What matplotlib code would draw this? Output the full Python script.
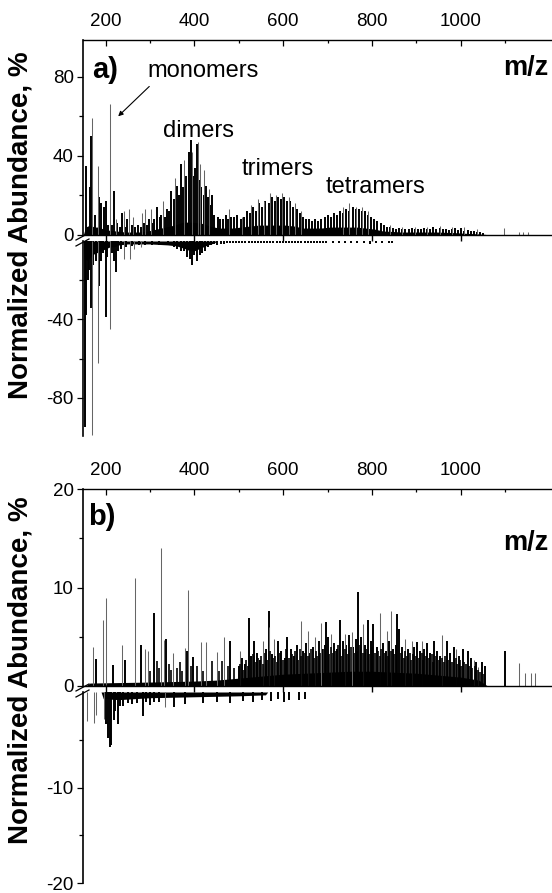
import matplotlib
matplotlib.use("Agg")
import matplotlib.pyplot as plt
from matplotlib.lines import Line2D

plt.rcParams['font.family'] = ['Liberation Sans', 'DejaVu Sans']
plt.rcParams['axes.unicode_minus'] = False

# ---------------- data : panel a (upper = positive spectrum) ----------------
a_up_black_mz = [155, 164, 168, 176, 186, 190, 197, 200, 205, 214, 219, 226, 233, 237, 244, 248, 259, 266,
                 272, 279, 286, 293, 298, 305, 310, 315, 322, 326, 333, 339, 343, 348, 354, 361, 365, 371,
                 375, 382, 387, 392, 397, 401, 405, 410, 416, 422, 427, 431, 436, 440, 445, 453, 458, 464,
                 471, 476, 483, 490, 497, 504, 511, 518, 525, 532, 539, 546, 553, 560, 567, 574, 581, 588,
                 595, 602, 609, 616, 623, 630, 637, 644, 651, 658, 665, 672, 679, 686, 693, 700, 707, 714,
                 721, 728, 735, 742, 749, 756, 763, 770, 777, 784, 791, 798, 805, 812, 819, 826, 833, 840,
                 847, 854, 861, 868, 875, 882, 889, 896, 903, 910, 917, 924, 931, 938, 945, 952, 959, 966,
                 973, 980, 987, 994, 1001, 1008, 1015, 1022, 1029, 1036, 1043, 1050]
a_up_black_int = [35, 24, 50, 10, 19, 16, 14, 17, 5, 5, 22, 6, 4, 11, 4, 8, 5, 4,
                  5, 4, 6, 5, 8, 6, 8, 14, 9, 10, 9, 13, 12, 22, 18, 25, 20, 36,
                  24, 30, 42, 48, 30, 34, 46, 28, 24, 20, 25, 19, 15, 20, 10, 9, 8, 8,
                  10, 8, 9, 9, 10, 8, 9, 12, 11, 14, 12, 16, 14, 17, 16, 19, 17, 19,
                  18, 19, 17, 17, 14, 13, 11, 9, 8, 8, 7, 8, 7, 8, 9, 10, 9, 11,
                  10, 12, 11, 13, 12, 14, 13, 13, 12, 12, 10, 9, 8, 7, 6, 5, 4, 4,
                  3.5, 3, 3.5, 3, 3, 3, 3.5, 3, 3, 3, 3.5, 3, 3, 4, 3, 3.5, 3, 3,
                  2.5, 3, 3.5, 2.5, 3.5, 2, 2.5, 2, 2, 1.5, 1.5, 1.2]
a_up_gray_mz = [170, 183, 211, 224, 241, 253, 262, 282, 288, 303, 330, 356, 376, 394, 408, 413, 422, 432,
                479, 508, 528, 543, 556, 570, 584, 598, 612, 626, 640, 735, 749, 763, 777, 791, 840, 868,
                896, 924, 952, 980, 1008, 1036, 1097, 1130, 1140, 1150]
a_up_gray_int = [59, 35, 66, 8, 12, 13, 9, 11, 13, 13, 17, 29, 38, 42, 47, 36, 33, 23,
                 13, 9, 15, 18, 17, 21, 20, 21, 19, 16, 12, 14, 16, 14, 14, 12, 5, 4,
                 4, 4, 4.5, 4, 4, 3, 3.5, 1.5, 1.5, 1.5]
a_up_base_mz = [150, 155, 165, 175, 185, 195, 205, 225, 245, 275, 295, 315, 335, 355, 375, 395, 415, 435,
                455, 485, 505, 525, 545, 565, 585, 605, 625, 645, 665, 685, 705, 725, 745, 765, 785, 805,
                825, 845, 865, 905, 945, 985, 1015, 1035, 1055, 1065]
a_up_base_int = [0, 4, 5, 4, 4, 3, 2.5, 2, 1.5, 1.5, 2, 3, 4, 5, 6.5, 6.5, 6, 4.5,
                 3.5, 3.5, 4, 4.5, 5, 5, 5, 5, 4.5, 3.5, 3.5, 3.5, 4, 4, 4, 4, 3.5, 3,
                 2, 1.8, 1.5, 1.5, 1.5, 1.2, 0.8, 0.6, 0.3, 0]

# ---------------- data : panel a (lower = negative spectrum) ----------------
a_lo_black_mz = [153, 157, 160, 163, 167, 172, 178, 185, 190, 195, 200, 204, 214, 218, 223, 228, 235, 247,
                 260, 275, 290, 305, 320, 340, 355, 362, 370, 377, 384, 390, 394, 400, 406, 412, 418, 424,
                 430, 437, 445, 452, 459, 466, 473, 480, 487, 494, 501, 508, 515, 522, 529, 536, 543, 550,
                 557, 564, 571, 578, 585, 592, 599, 606, 613, 620, 627, 634, 641, 648, 655, 662, 669, 676,
                 683, 690, 697, 711, 725, 739, 753, 767, 781, 795, 809, 823, 837, 844]
a_lo_black_int = [-95, -38, -20, -15, -34, -12, -10, -23, -10, -6, -39, -8, -6, -10, -16, -5, -4, -3,
                  -2.5, -2, -2, -2, -2, -2, -3, -4, -5, -5, -8, -9, -12, -7, -10, -7, -6, -5,
                  -3, -2, -1.5, -2, -1.5, -1.5, -1.2, -1.2, -1.2, -1.2, -1, -1.2, -1, -1.2, -1, -1.2, -1, -1.2,
                  -1, -1.2, -1, -1.2, -1, -1.2, -1, -1.2, -1, -1.2, -1, -1.2, -1, -1.2, -1, -1.2, -1, -1.2,
                  -1, -1, -1, -1, -1, -1, -1, -1, -1, -1.5, -1, -1, -1, -0.8]
a_lo_gray_mz = [169, 184, 209, 242, 254, 265, 280]
a_lo_gray_int = [-99, -62, -45, -9, -9, -4, -3]
a_lo_base_mz = [150, 152, 160, 170, 180, 190, 200, 210, 220, 230, 250, 300, 340, 360, 380, 390, 400, 410,
                420, 430, 445, 450]
a_lo_base_int = [0, -9, -10, -7, -6, -5, -4, -3, -3, -2, -1.5, -1.5, -2, -2.5, -4, -5, -5, -4,
                 -3, -2, -1, 0]

# ---------------- data : panel b (upper) ----------------
b_up_gray_mz = [172, 194, 202, 238, 267, 289, 295, 325, 331, 352, 378, 385, 414, 427, 451, 467, 502, 554,
                569, 580, 639, 656, 672, 685, 707, 739, 755, 779, 818, 834, 843, 873, 889, 913, 958, 989,
                1029, 1039, 1130, 1144, 1157, 1167]
b_up_gray_int = [4.0, 6.7, 8.9, 4.2, 11, 3.8, 3.6, 14, 4.7, 3.3, 3.9, 9.7, 4.5, 4.5, 3.5, 5.0, 3.6, 4.6,
                 6.0, 4.8, 6.6, 5.6, 5.0, 6.4, 5.3, 5.3, 5.5, 6.3, 7.4, 5.6, 7.6, 4.8, 4.6, 4.6, 5.2, 3.8,
                 2.6, 1.9, 2.3, 1.3, 1.3, 1.3]
b_up_black_mz = [179, 217, 244, 281, 310, 337, 384, 396, 480, 500, 507, 514, 522, 527, 534, 541, 548, 561,
                 567, 575, 589, 596, 603, 609, 617, 624, 631, 645, 652, 659, 666, 680, 687, 694, 697, 701,
                 714, 721, 727, 735, 742, 749, 756, 763, 769, 776, 783, 790, 797, 802, 811, 825, 832, 839,
                 846, 853, 857, 861, 867, 881, 895, 901, 908, 917, 924, 931, 940, 947, 954, 968, 975, 984,
                 995, 1004, 1015, 1022, 1034, 1048, 1054, 1100]
b_up_black_int = [2.7, 2.1, 2.6, 4.2, 7.4, 4.8, 3.6, 2.9, 4.6, 2.0, 2.8, 2.2, 6.9, 3.0, 4.6, 3.4, 2.6, 3.8,
                  7.6, 3.2, 4.6, 3.6, 2.8, 5.0, 3.8, 3.0, 4.2, 3.6, 4.4, 3.4, 4.0, 4.6, 3.8, 4.2, 6.5, 5.0,
                  4.4, 3.8, 6.7, 4.6, 4.2, 5.2, 4.0, 4.8, 9.5, 5.0, 4.2, 6.7, 4.6, 6.3, 4.0, 4.4, 3.6, 4.6,
                  3.8, 4.2, 7.3, 5.8, 4.0, 3.8, 4.0, 4.5, 3.6, 3.8, 4.4, 3.4, 4.6, 3.6, 3.0, 4.6, 3.4, 4.0,
                  3.0, 3.8, 3.6, 2.8, 2.4, 2.4, 2.0, 3.6]
b_up_fill_mz = [300, 315, 320, 342, 348, 360, 368, 372, 392, 405, 420, 440, 455, 462, 475, 490, 503, 510,
                517, 520, 531, 538, 544, 551, 555, 558, 564, 571, 578, 582, 585, 592, 599, 606, 613, 620,
                627, 634, 638, 641, 648, 655, 662, 669, 673, 676, 683, 690, 704, 707, 711, 718, 724, 731,
                738, 745, 752, 759, 766, 772, 779, 786, 793, 800, 807, 814, 818, 821, 828, 835, 842, 849,
                864, 871, 874, 878, 885, 888, 892, 898, 905, 912, 915, 921, 928, 935, 938, 944, 951, 958,
                961, 965, 972, 979, 988, 991, 998, 1001, 1008, 1012, 1018, 1025, 1031, 1038, 1044, 1051]
b_up_fill_int = [1.5, 2.5, 1.8, 2.2, 1.6, 1.8, 2.4, 1.5, 2.0, 2.0, 1.5, 2.5, 1.5, 2.5, 2.0, 1.8, 2.2, 1.6,
                 2.6, 2.0, 3.2, 2.4, 2.8, 3.0, 2.2, 3.4, 2.6, 3.6, 2.8, 3.0, 2.4, 3.4, 2.6, 3.8, 2.8, 3.2,
                 3.6, 2.6, 3.8, 3.0, 3.4, 3.0, 3.8, 2.8, 3.6, 3.0, 3.4, 3.8, 3.2, 4.0, 3.4, 3.6, 4.2, 3.0,
                 3.8, 3.2, 4.0, 3.4, 3.6, 4.2, 3.4, 3.8, 3.2, 4.0, 3.4, 3.6, 3.0, 3.8, 3.4, 3.0, 3.6, 3.2,
                 3.4, 2.8, 3.6, 3.0, 3.4, 2.6, 3.2, 3.0, 2.8, 3.4, 2.6, 3.0, 2.8, 3.2, 2.4, 3.0, 2.6, 2.8,
                 2.4, 3.0, 2.6, 2.4, 2.8, 2.2, 2.6, 2.0, 2.4, 2.2, 2.0, 1.8, 2.0, 1.6, 1.4, 1.2]
b_up_base_mz = [155, 165, 300, 400, 450, 500, 550, 600, 650, 700, 750, 800, 850, 900, 950, 1000, 1040, 1060]
b_up_base_int = [0, 0.3, 0.4, 0.5, 0.6, 0.8, 1.0, 1.2, 1.3, 1.4, 1.5, 1.5, 1.4, 1.3, 1.1, 0.9, 0.6, 0]

# ---------------- data : panel b (lower) ----------------
b_lo_gray_mz = [159, 175, 179, 197, 335]
b_lo_gray_int = [-3.0, -3.2, -2.4, -2.8, -1.6]
b_lo_black_mz = [202, 206, 210, 213, 218, 222, 228, 233, 240, 250, 260, 270, 284, 292, 300, 310, 320, 355,
                 380, 420, 450, 480, 510, 533, 552, 572, 588, 602, 612, 635, 648]
b_lo_black_int = [-3.4, -4.8, -5.8, -5.6, -2.9, -2.0, -3.4, -1.5, -1.5, -1.2, -1.3, -1.1, -2.5, -1.0, -1.4,
                  -1.0, -1.0, -1.6, -1.3, -1.2, -1.0, -1.1, -0.9, -1.0, -0.8, -0.9, -0.7, -1.0, -0.8, -0.8,
                  -0.7]
b_lo_base_mz = [190, 195, 230, 300, 400, 500, 560, 565]
b_lo_base_int = [0, -0.7, -0.8, -0.6, -0.5, -0.4, -0.3, 0]

x_major = [200, 400, 600, 800, 1000]
x_minor = [300, 500, 700, 900, 1100]

# ---------------- layout ----------------
W, H = 552, 893
fig = plt.figure(figsize=(W / 100, H / 100), dpi=100)


def add_ax(x0, y0, x1, y1):
    return fig.add_axes([x0 / W, 1 - y1 / H, (x1 - x0) / W, (y1 - y0) / H])


XL = 83.3
axes = {
    'a_up': add_ax(XL, 40, W, 235),
    'a_lo': add_ax(XL, 241, W, 436),
    'b_up': add_ax(XL, 489, W, 686),
    'b_lo': add_ax(XL, 692, W, 883),
}

BLK = '#000000'
GRY = '#666666'


def draw(ax, base_mz, base_int, black_mz, black_int, gray_mz, gray_int):
    ax.fill_between(base_mz, 0, base_int, color=BLK, lw=0)
    ax.vlines(black_mz, 0, black_int, colors=BLK, linewidth=1.4)
    ax.vlines(gray_mz, 0, gray_int, colors=GRY, linewidth=0.75)


draw(axes['a_up'], a_up_base_mz, a_up_base_int, a_up_black_mz, a_up_black_int, a_up_gray_mz, a_up_gray_int)
draw(axes['a_lo'], a_lo_base_mz, a_lo_base_int, a_lo_black_mz, a_lo_black_int, a_lo_gray_mz, a_lo_gray_int)
draw(axes['b_up'], b_up_base_mz, b_up_base_int, b_up_black_mz, b_up_black_int, b_up_gray_mz, b_up_gray_int)
axes['b_up'].vlines(b_up_fill_mz, 0, b_up_fill_int, colors=BLK, linewidth=1.2)
draw(axes['b_lo'], b_lo_base_mz, b_lo_base_int, b_lo_black_mz, b_lo_black_int, b_lo_gray_mz, b_lo_gray_int)

ylims = {'a_up': (0, 98.5), 'a_lo': (-99.5, 0), 'b_up': (0, 19.9), 'b_lo': (-20, 0)}
ymaj = {'a_up': [0, 40, 80], 'a_lo': [-80, -40], 'b_up': [0, 10, 20], 'b_lo': [-20, -10]}
ymin = {'a_up': [20, 60], 'a_lo': [-60, -20], 'b_up': [5, 15], 'b_lo': [-15, -5]}

for key, ax in axes.items():
    ax.set_xlim(150, 1205)
    ax.set_ylim(*ylims[key])
    ax.set_yticks(ymaj[key])
    ax.set_yticks(ymin[key], minor=True)
    ax.tick_params(axis='y', which='major', direction='out', length=4.3, width=0.9,
                   labelsize=13.5, pad=2.5)
    ax.tick_params(axis='y', which='minor', direction='out', length=2.8, width=0.9)
    ax.spines['right'].set_visible(False)
    ax.spines['left'].set_linewidth(1.2)
    ax.xaxis.tick_top()
    ax.set_xticks(x_major)
    if key.endswith('up'):
        ax.set_xticks(x_minor, minor=True)
        ax.set_xticklabels([str(v) for v in x_major])
        ax.tick_params(axis='x', which='major', direction='in', length=4, width=0.9,
                       labelsize=13.5, pad=7)
        ax.tick_params(axis='x', which='minor', direction='in', length=2.4, width=0.9)
        ax.spines['top'].set_linewidth(1.0)
        ax.spines['bottom'].set_linewidth(1.0)
    else:
        ax.tick_params(axis='x', which='major', direction='out', length=5, width=1.0,
                       labeltop=False)
        ax.spines['top'].set_visible(False)
        ax.spines['bottom'].set_visible(False)
    ax.patch.set_alpha(0)

# panel annotations
axu = axes['a_up']
axu.text(0.019, 0.805, 'a)', transform=axu.transAxes, fontsize=21, fontweight='bold', va='baseline')
axu.text(0.9915, 0.82, 'm/z', transform=axu.transAxes, fontsize=19.5, fontweight='bold',
         va='baseline', ha='right')
axu.text(294, 80, 'monomers', fontsize=17, va='baseline')
axu.text(330, 49.3, 'dimers', fontsize=17, va='baseline')
axu.text(507, 30.3, 'trimers', fontsize=17, va='baseline')
axu.text(695, 21, 'tetramers', fontsize=17, va='baseline')
axu.annotate('', xy=(224, 59), xytext=(303, 76),
             arrowprops=dict(arrowstyle='-|>', lw=0.8, color='k', mutation_scale=7))

axb = axes['b_up']
axb.text(0.0107, 0.817, 'b)', transform=axb.transAxes, fontsize=21, fontweight='bold', va='baseline')
axb.text(0.9915, 0.69, 'm/z', transform=axb.transAxes, fontsize=19.5, fontweight='bold',
         va='baseline', ha='right')

# y labels
fig.text(21 / W, 1 - 225 / H, 'Normalized Abundance, %', rotation=90, ha='center', va='center',
         fontsize=20, fontweight='bold')
fig.text(21 / W, 1 - 670 / H, 'Normalized Abundance, %', rotation=90, ha='center', va='center',
         fontsize=20, fontweight='bold')

# axis-break marks
for yc in (235, 686):
    for dy in (1.5, 7.5):
        fig.add_artist(Line2D([76 / W, 89 / W], [1 - (yc + dy + 3.5) / H, 1 - (yc + dy - 3.5) / H],
                              transform=fig.transFigure, color='k', lw=0.9))

fig.savefig('out.png', dpi=100)
